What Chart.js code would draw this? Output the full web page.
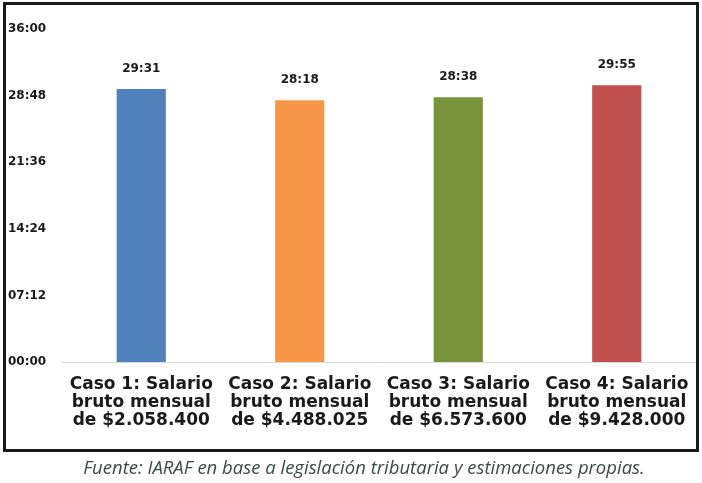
<!DOCTYPE html>
<html>
<head>
<meta charset="utf-8">
<script src="https://cdn.jsdelivr.net/npm/chart.js@4"></script>
<style>
  body { margin: 0; background: #fff; }
  #wrap { position: relative; width: 702px; height: 483px; }
  #frame { position: absolute; left: 3px; top: 2px; width: 690px; height: 444px; border: 3px solid #1a1a1a; }
  canvas { position: absolute; left: 0; top: 0; }
  #source {
    position: absolute; left: 0; top: 454px; width: 728px; text-align: center;
    font: italic 18.5px "Open Sans", sans-serif; color: #3d4a44;
  }
</style>
</head>
<body>
<div id="wrap">
  <canvas id="chart" width="702" height="455"></canvas>
  <div id="frame"></div>
  <div id="source">Fuente: IARAF en base a legislación tributaria y estimaciones propias.</div>
</div>
<script>
const cases = [
  ['Caso 1: Salario', 'bruto mensual', 'de $2.058.400'],
  ['Caso 2: Salario', 'bruto mensual', 'de $4.488.025'],
  ['Caso 3: Salario', 'bruto mensual', 'de $6.573.600'],
  ['Caso 4: Salario', 'bruto mensual', 'de $9.428.000']
]
// hours:minutes, stored as minutes
const hours = ['29:31', '28:18', '28:38', '29:55']
const minutes = hours.map((h) => { const [a, b] = h.split(':'); return +a * 60 + +b })
const colors = ['#4f81bd', '#f79646', '#77933c', '#c0504d']

const fmt = (m) => String(Math.floor(m / 60)).padStart(2, '0') + ':' + String(m % 60).padStart(2, '0')

// value labels above each bar
const barLabels = {
  id: 'barLabels',
  afterDatasetsDraw(chart) {
    const { ctx } = chart
    ctx.save()
    ctx.font = 'bold 12px "DejaVu Sans"'
    ctx.fillStyle = '#1a1a1a'
    ctx.textAlign = 'center'
    ctx.textBaseline = 'middle'
    chart.getDatasetMeta(0).data.forEach((bar, i) => {
      ctx.fillText(fmt(minutes[i]), bar.x, bar.y - 20)
    })
    ctx.restore()
  }
}

new Chart(document.getElementById('chart'), {
  type: 'bar',
  data: {
    labels: cases,
    datasets: [{
      data: minutes,
      backgroundColor: colors,
      barPercentage: 0.31,
      categoryPercentage: 1
    }]
  },
  plugins: [barLabels],
  options: {
    responsive: false,
    animation: false,
    layout: { padding: { left: 8, right: 6, top: 29, bottom: 0 } },
    plugins: { legend: { display: false }, tooltip: { enabled: false } },
    scales: {
      y: {
        min: 0,
        max: 2160,
        afterFit: (axis) => { axis.width = 54 },
        grid: { display: false },
        border: { display: false },
        ticks: {
          stepSize: 432,
          crossAlign: 'far',
          color: '#1a1a1a',
          font: { family: 'DejaVu Sans', size: 12, weight: 'bold' },
          callback: (v) => fmt(v)
        }
      },
      x: {
        afterFit: (axis) => { axis.height = 93 },
        grid: { display: false },
        border: { color: '#d9d9d9' },
        ticks: {
          padding: 5,
          maxRotation: 0,
          color: '#1a1a1a',
          font: { family: 'DejaVu Sans', size: 17, weight: 'bold', lineHeight: 1.08 }
        }
      }
    }
  }
})
</script>
</body>
</html>
